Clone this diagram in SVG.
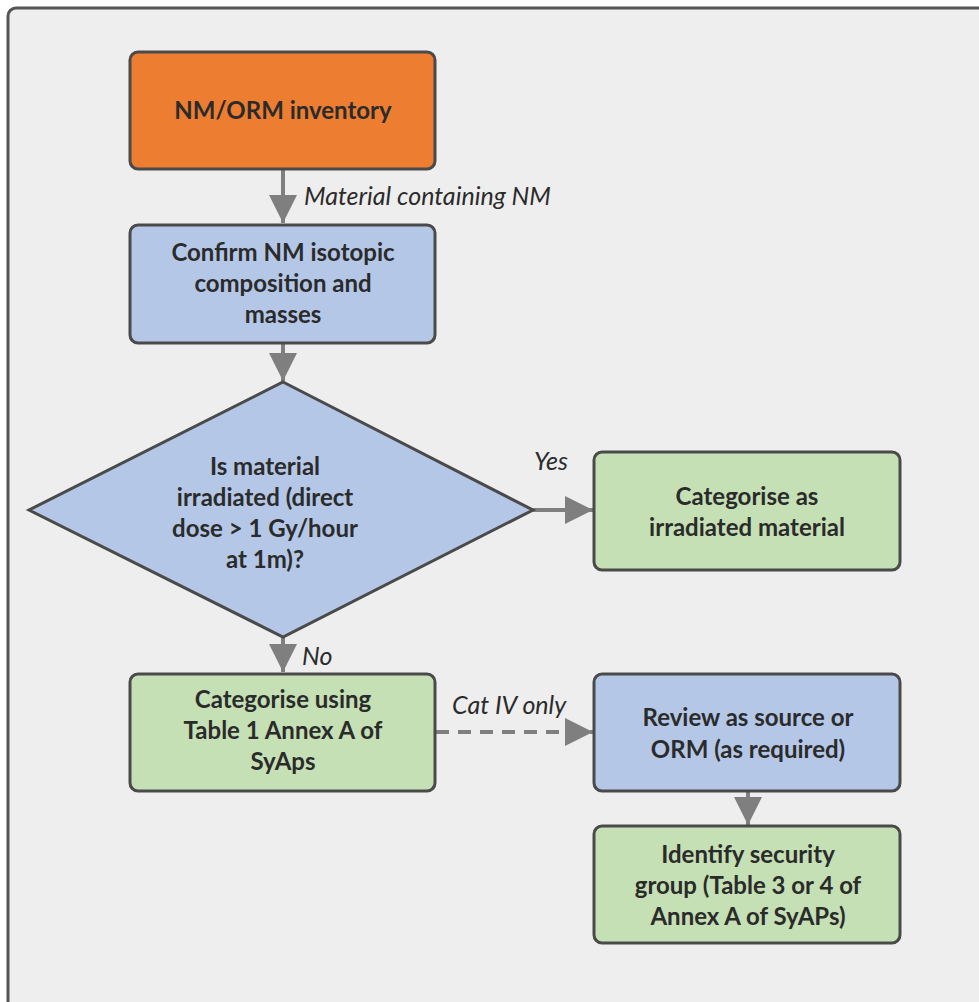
<svg xmlns="http://www.w3.org/2000/svg" width="979" height="1002" viewBox="0 0 979 1002">
  <style>
    .node { stroke: #4a4a4a; stroke-width: 3; }
    .orange { fill: #ed7d31; }
    .blue { fill: #b4c7e7; }
    .green { fill: #c5e0b4; }
    .t { font-family: Lato, "Open Sans", "Liberation Sans", sans-serif; font-weight: bold; font-size: 24px; fill: #2b2b2b; text-anchor: middle; }
    .lbl { font-family: Lato, "Open Sans", "Liberation Sans", sans-serif; font-style: italic; font-size: 25px; fill: #2b2b2b; }
    .conn { stroke: #7f7f7f; stroke-width: 4; fill: none; }
    .dash { stroke-dasharray: 13 9; }
  </style>
  <defs>
    <marker id="arrow" viewBox="0 0 10 10" refX="10" refY="5" markerUnits="userSpaceOnUse" markerWidth="28" markerHeight="28" orient="auto">
      <path d="M0,0 L10,5 L0,10 Z" fill="#7f7f7f"/>
    </marker>
  </defs>

  <!-- page background and frame -->
  <rect x="0" y="0" width="979" height="1002" fill="#ffffff"/>
  <rect x="8" y="8" width="1000" height="1020" rx="8" fill="#eeeeee" stroke="#555555" stroke-width="3"/>

  <!-- connectors -->
  <g id="connectors">
    <line class="conn" x1="283" y1="169" x2="283" y2="223" marker-end="url(#arrow)"/>
    <text class="lbl" x="304" y="205">Material containing NM</text>
    <line class="conn" x1="283" y1="343" x2="283" y2="381" marker-end="url(#arrow)"/>
    <line class="conn" x1="533" y1="510" x2="593" y2="510" marker-end="url(#arrow)"/>
    <text class="lbl" x="534" y="470">Yes</text>
    <line class="conn" x1="283" y1="637" x2="283" y2="672" marker-end="url(#arrow)"/>
    <text class="lbl" x="302" y="665">No</text>
    <line class="conn dash" x1="436" y1="732" x2="593" y2="732" marker-end="url(#arrow)"/>
    <text class="lbl" x="452" y="714">Cat IV only</text>
    <line class="conn" x1="748" y1="791" x2="748" y2="825" marker-end="url(#arrow)"/>
  </g>

  <!-- start node -->
  <g id="inventory">
    <rect class="node orange" x="130" y="52" width="305" height="117" rx="8"/>
    <text class="t" x="283" y="119">NM/ORM inventory</text>
  </g>

  <g id="confirm">
    <rect class="node blue" x="130" y="225" width="305" height="118" rx="8"/>
    <text class="t" x="283" y="261">Confirm NM isotopic</text>
    <text class="t" x="283" y="292">composition and</text>
    <text class="t" x="283" y="323">masses</text>
  </g>

  <g id="irradiated-check">
    <polygon class="node blue" points="283,382 533,510 283,637 29,510"/>
    <text class="t" x="265" y="475">Is material</text>
    <text class="t" x="265" y="506">irradiated (direct</text>
    <text class="t" x="265" y="537">dose &gt; 1 Gy/hour</text>
    <text class="t" x="265" y="568">at 1m)?</text>
  </g>

  <g id="irradiated-category">
    <rect class="node green" x="594" y="452" width="306" height="118" rx="8"/>
    <text class="t" x="747" y="505">Categorise as</text>
    <text class="t" x="747" y="536">irradiated material</text>
  </g>

  <g id="table1-category">
    <rect class="node green" x="130" y="674" width="305" height="117" rx="8"/>
    <text class="t" x="283" y="708">Categorise using</text>
    <text class="t" x="283" y="739">Table 1 Annex A of</text>
    <text class="t" x="283" y="770">SyAps</text>
  </g>

  <g id="review">
    <rect class="node blue" x="594" y="674" width="306" height="117" rx="8"/>
    <text class="t" x="748" y="726">Review as source or</text>
    <text class="t" x="748" y="758">ORM (as required)</text>
  </g>

  <g id="security-group">
    <rect class="node green" x="594" y="826" width="306" height="117" rx="8"/>
    <text class="t" x="748" y="863">Identify security</text>
    <text class="t" x="748" y="894">group (Table 3 or 4 of</text>
    <text class="t" x="748" y="925">Annex A of SyAPs)</text>
  </g>
</svg>
